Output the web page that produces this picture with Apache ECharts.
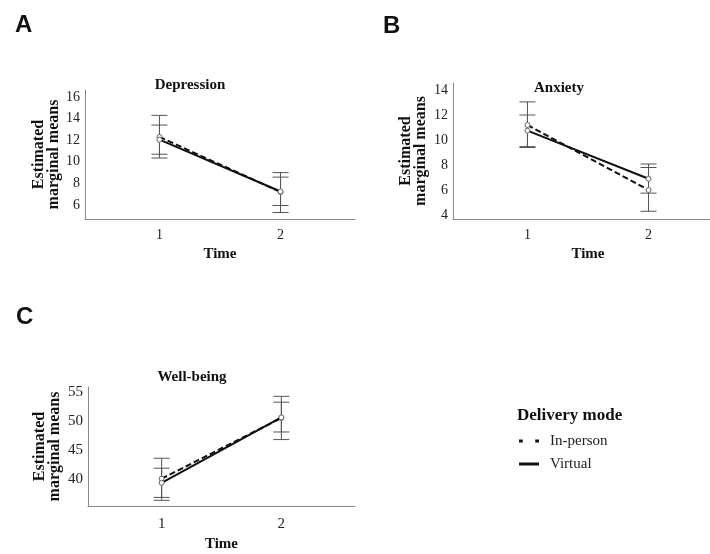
<!DOCTYPE html>
<html>
<head>
<meta charset="utf-8">
<script src="https://cdn.jsdelivr.net/npm/echarts@6/dist/echarts.min.js"></script>
<style>html,body{margin:0;padding:0;background:#fff;}#c{width:710px;height:554px;}</style>
</head>
<body>
<div id="c"></div>
<script>
// ---- data ----
const times = [1, 2];
const timeTicks = [1, 2];
const seriesNames = ['In-person', 'Virtual'];

// Depression
const depInPerson = [12.3, 7.2];
const depInPersonLow = [10.35, 5.3];
const depInPersonHigh = [14.3, 9.0];
const depVirtual = [12.05, 7.25];
const depVirtualLow = [10.7, 5.95];
const depVirtualHigh = [13.4, 8.58];
const depTicks = [6, 8, 10, 12, 14, 16];

// Anxiety
const anxInPerson = [11.2, 6.0];
const anxInPersonLow = [9.4, 4.3];
const anxInPersonHigh = [13.05, 7.8];
const anxVirtual = [10.75, 6.9];
const anxVirtualLow = [9.47, 5.75];
const anxVirtualHigh = [12.0, 8.08];
const anxTicks = [4, 6, 8, 10, 12, 14];

// Well-being
const wbInPerson = [40.1, 50.5];
const wbInPersonLow = [36.4, 46.8];
const wbInPersonHigh = [43.6, 54.2];
const wbVirtual = [39.4, 50.6];
const wbVirtualLow = [36.9, 48.1];
const wbVirtualHigh = [41.9, 53.2];
const wbTicks = [40, 45, 50, 55];

const panelTitles = ['Depression', 'Anxiety', 'Well-being'];
const panelLetters = ['A', 'B', 'C'];
const yName = 'Estimated\nmarginal means';
const xName = 'Time';

// ---- chart ----
const SERIF = 'Liberation Serif';
const chart = echarts.init(document.getElementById('c'), null, {renderer: 'canvas'});

const panels = [
  {ticks: depTicks, ymin: 4.7, ymax: 16.65, ip: depInPerson, ipL: depInPersonLow, ipH: depInPersonHigh, v: depVirtual, vL: depVirtualLow, vH: depVirtualHigh,
   grid: {left: 85, top: 90, width: 270, height: 129}, nameGap: 22, xNameGap: 28, lab: 14, labMargin: 9},
  {ticks: anxTicks, ymin: 3.68, ymax: 14.56, ip: anxInPerson, ipL: anxInPersonLow, ipH: anxInPersonHigh, v: anxVirtual, vL: anxVirtualLow, vH: anxVirtualHigh,
   grid: {left: 453, top: 83, width: 270, height: 136}, nameGap: 25, xNameGap: 28, lab: 14, labMargin: 9},
  {ticks: wbTicks, ymin: 35.43, ymax: 55.8, ip: wbInPerson, ipL: wbInPersonLow, ipH: wbInPersonHigh, v: wbVirtual, vL: wbVirtualLow, vH: wbVirtualHigh,
   grid: {left: 88, top: 387, width: 267, height: 119}, nameGap: 26, xNameGap: 31, lab: 15, labMargin: 11}
];

const grids = [], xAxes = [], yAxes = [], series = [];

function errorBarSeries(idx, low, high) {
  return {
    type: 'custom',
    xAxisIndex: idx, yAxisIndex: idx,
    clip: false,
    silent: true,
    data: times.map((t, i) => [t, low[i], high[i]]),
    renderItem: function (params, api) {
      const x = api.value(0);
      const lo = api.coord([x, api.value(1)]);
      const hi = api.coord([x, api.value(2)]);
      const hw = 8;
      const st = {stroke: '#555', lineWidth: 1};
      return {
        type: 'group',
        children: [
          {type: 'line', shape: {x1: lo[0], y1: lo[1], x2: hi[0], y2: hi[1]}, style: st},
          {type: 'line', shape: {x1: lo[0] - hw, y1: lo[1], x2: lo[0] + hw, y2: lo[1]}, style: st},
          {type: 'line', shape: {x1: hi[0] - hw, y1: hi[1], x2: hi[0] + hw, y2: hi[1]}, style: st}
        ]
      };
    },
    z: 1
  };
}

panels.forEach((p, idx) => {
  grids.push(Object.assign({containLabel: false, outerBoundsMode: 'none'}, p.grid));
  xAxes.push({
    type: 'value', gridIndex: idx, min: 0.385, max: 2.615,
    name: xName, nameLocation: 'middle', nameGap: p.xNameGap,
    nameTextStyle: {fontFamily: SERIF, fontWeight: 'bold', fontSize: 15, color: '#111'},
    axisLine: {show: true, lineStyle: {color: '#888', width: 1}},
    axisTick: {show: false},
    splitLine: {show: false},
    axisLabel: {customValues: timeTicks, fontFamily: SERIF, fontSize: p.lab, color: '#222', margin: p.labMargin}
  });
  yAxes.push({
    type: 'value', gridIndex: idx, min: p.ymin, max: p.ymax,
    name: yName, nameLocation: 'middle', nameGap: p.nameGap,
    nameTextStyle: {fontFamily: SERIF, fontWeight: 'bold', fontSize: 16, lineHeight: 15, color: '#111'},
    axisLine: {show: true, lineStyle: {color: '#888', width: 1}},
    axisTick: {show: false},
    splitLine: {show: false},
    axisLabel: {customValues: p.ticks, fontFamily: SERIF, fontSize: p.lab, color: '#222', margin: 5}
  });
  series.push(errorBarSeries(idx, p.ipL, p.ipH));
  series.push(errorBarSeries(idx, p.vL, p.vH));
  series.push({
    name: seriesNames[0], type: 'line', xAxisIndex: idx, yAxisIndex: idx,
    data: times.map((t, i) => [t, p.ip[i]]),
    lineStyle: {color: '#111', width: 2, type: [6, 3]},
    symbol: 'circle', symbolSize: 5,
    itemStyle: {color: '#fff', borderColor: '#666', borderWidth: 1},
    z: 3, silent: true, animation: false
  });
  series.push({
    name: seriesNames[1], type: 'line', xAxisIndex: idx, yAxisIndex: idx,
    data: times.map((t, i) => [t, p.v[i]]),
    lineStyle: {color: '#111', width: 2, type: 'solid'},
    symbol: 'circle', symbolSize: 5,
    itemStyle: {color: '#fff', borderColor: '#666', borderWidth: 1},
    z: 4, silent: true, animation: false
  });
});

const letterPos = [[15, 13], [383, 14], [16, 305]];
const titlePos = [[190, 78], [559, 81], [192, 370]];
const titles = [];
panelLetters.forEach((l, i) => titles.push({
  text: l, left: letterPos[i][0], top: letterPos[i][1], padding: 0,
  textStyle: {fontFamily: 'Liberation Sans', fontWeight: 'bold', fontSize: 24, color: '#111'}
}));
panelTitles.forEach((t, i) => titles.push({
  text: t, left: titlePos[i][0], top: titlePos[i][1], padding: 0, textAlign: 'center',
  textStyle: {fontFamily: SERIF, fontWeight: 'bold', fontSize: 15, color: '#111'}
}));
titles.push({
  text: 'Delivery mode', left: 517, top: 407, padding: 0,
  textStyle: {fontFamily: SERIF, fontWeight: 'bold', fontSize: 17, color: '#111'}
});

chart.setOption({
  animation: false,
  backgroundColor: '#fff',
  title: titles,
  grid: grids,
  xAxis: xAxes,
  yAxis: yAxes,
  legend: {
    orient: 'vertical', left: 519, top: 433, padding: 0,
    itemWidth: 20, itemHeight: 3, itemGap: 7, symbolKeepAspect: false,
    selectedMode: false,
    textStyle: {fontFamily: SERIF, fontSize: 15, lineHeight: 16, color: '#222', padding: [0, 0, 0, 6]},
    data: [
      {name: seriesNames[0], icon: 'path://M0,0h3v3h-3zM13,0h3v3h-3z', itemStyle: {color: '#111', borderWidth: 0}},
      {name: seriesNames[1], icon: 'rect', itemStyle: {color: '#111', borderWidth: 0}}
    ]
  },
  series: series
});
</script>
</body>
</html>
